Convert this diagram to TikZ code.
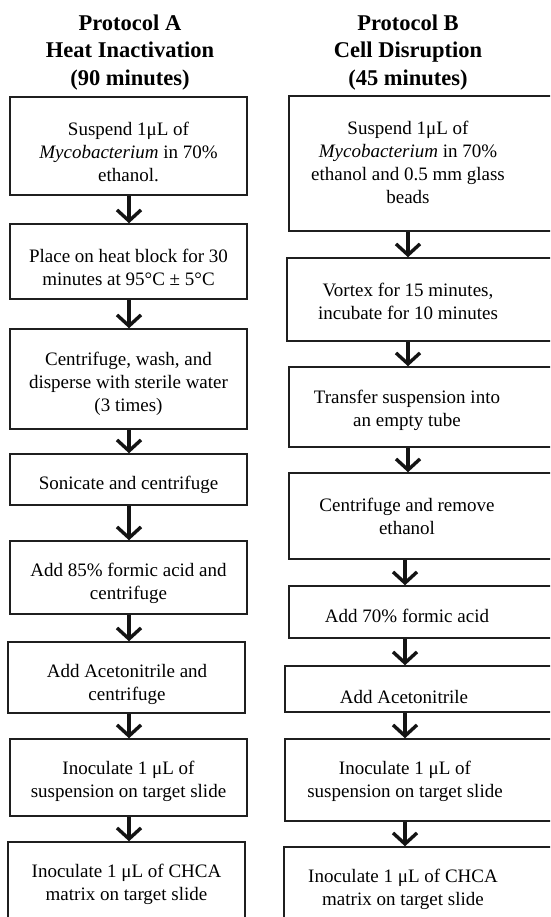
\documentclass[tikz,border=0pt]{standalone}
\usepackage{fontspec}
\setmainfont{Liberation Serif}
\usetikzlibrary{arrows.meta}
\begin{document}
\begin{tikzpicture}[x=1pt,y=-1pt,
  frame/.style={draw=black!88, line width=1.5pt, rectangle, inner sep=0pt},
  txt/.style={align=center, font=\fontsize{19}{23}\selectfont, inner sep=0pt, text=black},
  ttl/.style={align=center, font=\fontsize{22.5}{27.5}\selectfont\bfseries, inner sep=0pt, text=black},
  arr/.style={line width=3.4pt, draw=black!92, -{Straight Barb[length=11pt,width=24pt,line join=miter]}}
]
\clip (0,0) rectangle (550,917);
\useasboundingbox (0,0) rectangle (550,917);

% titles
\node[ttl] (TA) at (130,52.5) {Protocol A\\Heat Inactivation\\(90 minutes)};
\node[ttl] (TB) at (408,52.5) {Protocol B\\Cell Disruption\\(45 minutes)};

% left frames
\node[frame, minimum width=237, minimum height=98] (A1) at (128.5,146) {};
\node[frame, minimum width=237, minimum height=75] (A2) at (128.5,261.5) {};
\node[frame, minimum width=237, minimum height=100] (A3) at (128.5,379) {};
\node[frame, minimum width=237, minimum height=51] (A4) at (128.5,479.5) {};
\node[frame, minimum width=237, minimum height=73] (A5) at (128.5,577.5) {};
\node[frame, minimum width=237, minimum height=71] (A6) at (126.5,677.5) {};
\node[frame, minimum width=237, minimum height=77] (A7) at (128.5,777.5) {};
\node[frame, minimum width=237, minimum height=88] (A8) at (126.5,886) {};

% left texts
\node[txt] (tA1) at (128.5,152) {Suspend 1μL of\\\textit{Mycobacterium} in 70\%\\ethanol.};
\node[txt] (tA2) at (128.5,267) {Place on heat block for 30\\minutes at 95°C ± 5°C};
\node[txt] (tA3) at (128.5,384) {Centrifuge, wash, and\\disperse with sterile water\\(3 times)};
\node[txt] (tA4) at (128.5,485) {Sonicate and centrifuge};
\node[txt] (tA5) at (128.5,583.5) {Add 85\% formic acid and\\centrifuge};
\node[txt] (tA6) at (127,684.5) {Add Acetonitrile and\\centrifuge};
\node[txt] (tA7) at (128.5,781.5) {Inoculate 1 μL of\\suspension on target slide};
\node[txt] (tA8) at (126.5,884.5) {Inoculate 1 μL of CHCA\\matrix on target slide};

% right frames
\node[frame, minimum width=276, minimum height=135] (B1) at (427,163.5) {};
\node[frame, minimum width=278, minimum height=83] (B2) at (426,299.5) {};
\node[frame, minimum width=276, minimum height=80] (B3) at (427,407) {};
\node[frame, minimum width=276, minimum height=86] (B4) at (427,516) {};
\node[frame, minimum width=276, minimum height=52] (B5) at (427,612) {};
\node[frame, minimum width=280, minimum height=46] (B6) at (425,689) {};
\node[frame, minimum width=280, minimum height=82] (B7) at (425,780) {};
\node[frame, minimum width=281, minimum height=88] (B8) at (424.5,891) {};

% right texts
\node[txt] (tB1) at (408,162) {Suspend 1μL of\\\textit{Mycobacterium} in 70\%\\ethanol and 0.5 mm glass\\beads};
\node[txt] (tB2) at (408,301.5) {Vortex for 15 minutes,\\incubate for 10 minutes};
\node[txt] (tB3) at (407,410) {Transfer suspension into\\an empty tube};
\node[txt] (tB4) at (407,516.5) {Centrifuge and remove\\ethanol};
\node[txt] (tB5) at (407,616) {Add 70\% formic acid};
\node[txt] (tB6) at (404,697) {Add Acetonitrile};
\node[txt] (tB7) at (405,781.5) {Inoculate 1 μL of\\suspension on target slide};
\node[txt] (tB8) at (403,889.5) {Inoculate 1 μL of CHCA\\matrix on target slide};

% coordinates for arrow columns
\coordinate (cL) at (129,0);
\coordinate (cB1) at (408,0);
\coordinate (cB2) at (405,0);

% left arrows
\foreach \a/\b in {A1/A2,A2/A3,A3/A4,A4/A5,A5/A6,A6/A7,A7/A8}
  \draw[arr] (cL |- \a.south) -- (cL |- \b.north);

% right arrows
\foreach \a/\b in {B1/B2,B2/B3,B3/B4}
  \draw[arr] (cB1 |- \a.south) -- (cB1 |- \b.north);
\foreach \a/\b in {B4/B5,B5/B6,B6/B7,B7/B8}
  \draw[arr] (cB2 |- \a.south) -- (cB2 |- \b.north);
\end{tikzpicture}
\end{document}
